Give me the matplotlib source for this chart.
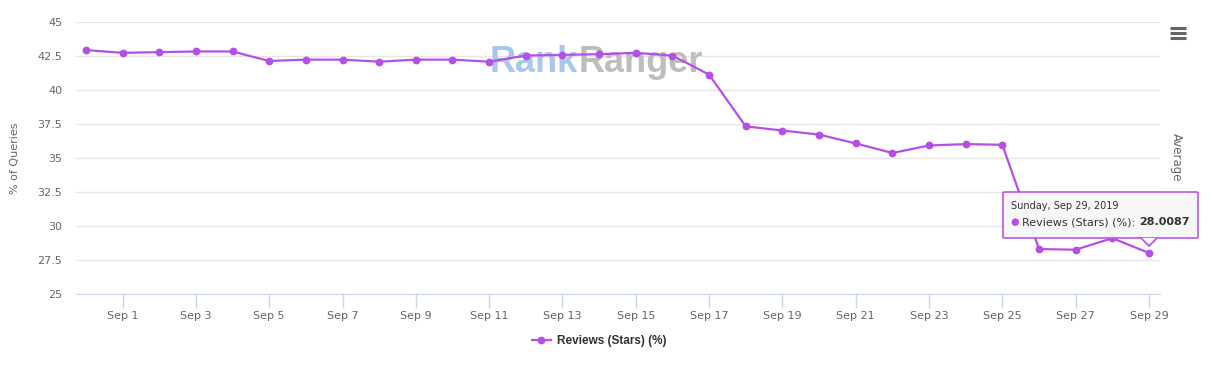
import matplotlib.pyplot as plt
import numpy as np
from matplotlib.patches import FancyBboxPatch, Polygon

# data (Aug 31 .. Sep 29, 2019)
dates = ['Aug 31'] + ['Sep %d' % d for d in range(1, 30)]
values = [42.9, 42.7, 42.75, 42.8, 42.8, 42.1, 42.2, 42.2, 42.05, 42.2,
          42.2, 42.05, 42.5, 42.55, 42.6, 42.7, 42.5, 41.1, 37.3, 37.0,
          36.7, 36.05, 35.35, 35.9, 36.0, 35.95, 28.3, 28.25, 29.1, 28.0087]
yticks = [25, 27.5, 30, 32.5, 35, 37.5, 40, 42.5, 45]
series_name = 'Reviews (Stars) (%)'

PURPLE = '#b64fe6'
GRID = '#e6e6e6'
AXIS = '#ccd6eb'
TXT = '#666666'

x = np.arange(len(values))

fig = plt.figure(figsize=(12.1, 3.68), dpi=100)
W, H = fig.get_size_inches() * fig.dpi
ax = fig.add_axes([76 / W, 1 - 294 / H, (1160 - 76) / W, (294 - 21.5) / H])

ax.plot(x, values, color=PURPLE, lw=1.6, marker='o', ms=4.6, zorder=3,
        label=series_name, solid_joinstyle='round')

ax.set_ylim(25, 45)
ax.set_xlim(-0.27, len(values) - 0.7)
ax.set_yticks(yticks)
ax.set_yticklabels(['%g' % t for t in yticks])
ax.set_xticks(x[1::2])
ax.set_xticklabels(dates[1::2])

ax.grid(axis='y', color=GRID, lw=1)
ax.set_axisbelow(True)
for s in ['top', 'right', 'left']:
  ax.spines[s].set_visible(False)
ax.spines['bottom'].set_color(AXIS)
ax.tick_params(axis='x', colors=AXIS, length=10, width=1, labelcolor=TXT,
               labelsize=8, pad=2)
ax.tick_params(axis='y', length=0, labelcolor=TXT, labelsize=8, pad=10)
ax.set_ylabel('% of Queries', color=TXT, fontsize=8)
ax.yaxis.set_label_coords(-(76 - 20) / (1160 - 76), 0.5)

# right axis title
fig.text(1176 / W, 1 - 157 / H, 'Average', rotation=-90, color=TXT,
         fontsize=8.5, ha='center', va='center')

# watermark (behind the line)
wm = ax.text(490 / W, 1 - 72 / H, 'Rank', color='#a8c7ec', fontsize=26,
             family='Liberation Sans', fontweight='bold', ha='left',
             va='baseline', transform=fig.transFigure, zorder=1)
fig.canvas.draw()
bb = wm.get_window_extent()
ax.text(bb.x1 / W, 1 - 72 / H, 'Ranger', color='#bdbdbd', fontsize=26,
        family='Liberation Sans', fontweight='bold', ha='left',
        va='baseline', transform=fig.transFigure, zorder=1)

# hamburger menu
for yy in [28, 33, 38]:
  fig.add_artist(plt.Line2D([1170 / W, 1186 / W], [1 - yy / H] * 2,
                            color='#666666', lw=2.2, solid_capstyle='butt'))

# legend
leg = ax.legend(loc='center', bbox_to_anchor=((599 - 76) / 1084, -(341 - 294) / 272.5),
                frameon=False, prop={'family': 'Liberation Sans', 'size': 8.5,
                                     'weight': 'bold'},
                handlelength=1.6, handletextpad=0.5)
for t in leg.get_texts():
  t.set_color('#333333')

# tooltip at the last point
px, py = ax.transData.transform((x[-1], values[-1]))
bx0, bx1 = px - 146, px + 49
by0, by1 = py + 15, py + 61
box = FancyBboxPatch((bx0 / W, by0 / H), (bx1 - bx0) / W, (by1 - by0) / H,
                     boxstyle='round,pad=0,rounding_size=0.002',
                     transform=fig.transFigure, facecolor='#f7f7f7',
                     edgecolor=PURPLE, lw=1.2, zorder=10, alpha=0.95)
fig.add_artist(box)
tri = Polygon([((px - 8) / W, by0 / H), (px / W, (by0 - 8) / H), ((px + 8) / W, by0 / H)],
              closed=False, transform=fig.transFigure, facecolor='#f7f7f7',
              edgecolor=PURPLE, lw=1.2, zorder=11)
fig.add_artist(tri)
fig.text((bx0 + 8) / W, (by1 - 14) / H, 'Sunday, Sep 29, 2019', fontsize=7,
         color='#333333', va='center', zorder=12)
fig.text((bx0 + 7) / W, (by1 - 30) / H, '\u25CF', fontsize=7, color=PURPLE,
         va='center', zorder=12)
t1 = fig.text((bx0 + 19) / W, (by1 - 30) / H, series_name + ': ', fontsize=8,
              color='#333333', va='center', zorder=12)
fig.canvas.draw()
bb = t1.get_window_extent()
fig.text(bb.x1 / W, (by1 - 30) / H, '%.4f' % values[-1], fontsize=8,
         fontweight='bold', color='#333333', va='center', zorder=12)

fig.savefig('out.png', dpi=100)
